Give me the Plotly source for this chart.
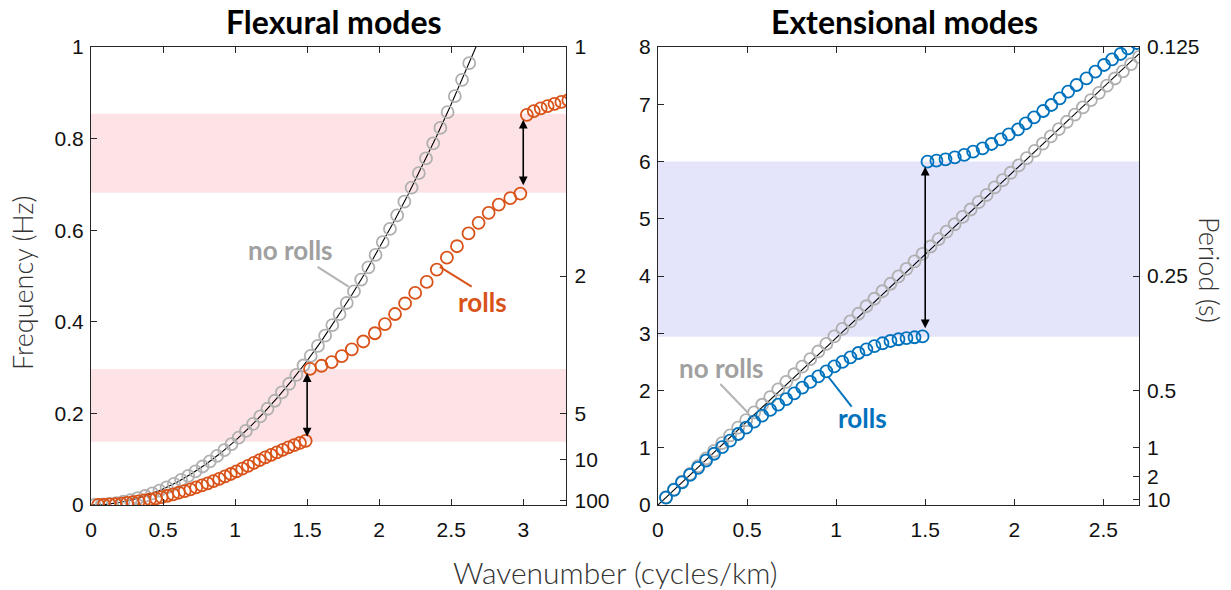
import plotly.graph_objects as go

# ---------------- data ----------------
# Flexural modes (left panel)
flex_line_k = [0.0, 0.1, 0.2, 0.3, 0.4, 0.5, 0.6, 0.7, 0.8, 0.9, 1.0, 1.1, 1.2, 1.3, 1.4,
               1.5, 1.6, 1.7, 1.8, 1.9, 2.0, 2.1, 2.2, 2.3, 2.4, 2.5, 2.6, 2.7]
flex_line_f = [0.0, 0.0014, 0.0056, 0.0126, 0.0224, 0.035, 0.0504, 0.0686, 0.0896, 0.1134,
               0.14, 0.1694, 0.2016, 0.2366, 0.2744, 0.315, 0.3584, 0.4046, 0.4536, 0.5054,
               0.56, 0.6174, 0.6776, 0.7406, 0.8064, 0.875, 0.9464, 1.0206]

flex_norolls_k = [0.025, 0.075, 0.125, 0.175, 0.225, 0.275, 0.325, 0.375, 0.425, 0.475,
                  0.525, 0.575, 0.625, 0.675, 0.725, 0.775, 0.825, 0.875, 0.925, 0.975,
                  1.025, 1.075, 1.125, 1.175, 1.225, 1.275, 1.325, 1.375, 1.425, 1.475,
                  1.525, 1.575, 1.625, 1.675, 1.725, 1.775, 1.825, 1.875, 1.925, 1.975,
                  2.025, 2.075, 2.125, 2.175, 2.225, 2.275, 2.325, 2.375, 2.425, 2.475,
                  2.525, 2.575, 2.625]
flex_norolls_f = [0.0001, 0.0008, 0.0022, 0.0043, 0.0071, 0.0106, 0.0148, 0.0197, 0.0253, 0.0316,
                  0.0386, 0.0463, 0.0547, 0.0638, 0.0736, 0.0841, 0.0953, 0.1072, 0.1198, 0.1331,
                  0.1471, 0.1618, 0.1772, 0.1933, 0.2101, 0.2276, 0.2458, 0.2647, 0.2843, 0.3046,
                  0.3256, 0.3473, 0.3697, 0.3928, 0.4166, 0.4411, 0.4663, 0.4922, 0.5188, 0.5461,
                  0.5741, 0.6028, 0.6322, 0.6623, 0.6931, 0.7246, 0.7568, 0.7897, 0.8233, 0.8576,
                  0.8926, 0.9283, 0.9647]

flex_rolls1_k = [0.05, 0.09, 0.13, 0.17, 0.21, 0.25, 0.29, 0.33, 0.37, 0.41, 0.45, 0.49,
                 0.53, 0.57, 0.61, 0.65, 0.69, 0.73, 0.77, 0.81, 0.85, 0.89, 0.93, 0.97,
                 1.01, 1.05, 1.09, 1.13, 1.17, 1.21, 1.25, 1.29, 1.33, 1.37, 1.41, 1.45, 1.49]
flex_rolls1_f = [0.0002, 0.0006, 0.0012, 0.0021, 0.0032, 0.0045, 0.0061, 0.0078, 0.0099, 0.0121,
                 0.0146, 0.0173, 0.0202, 0.0234, 0.0268, 0.0304, 0.0343, 0.0384, 0.0427, 0.0472,
                 0.0520, 0.0570, 0.0623, 0.0677, 0.0735, 0.0794, 0.0855, 0.0918, 0.0979, 0.1039,
                 0.1096, 0.1151, 0.1205, 0.1257, 0.1307, 0.1355, 0.1401]

flex_rolls2_k = [1.52, 1.60, 1.67, 1.74, 1.81, 1.89, 1.97, 2.04, 2.11, 2.18, 2.25, 2.33,
                 2.40, 2.47, 2.54, 2.62, 2.69, 2.76, 2.83, 2.91, 2.98]
flex_rolls2_f = [0.297, 0.304, 0.312, 0.325, 0.340, 0.357, 0.375, 0.395, 0.417, 0.440, 0.463, 0.487,
                 0.514, 0.540, 0.565, 0.593, 0.616, 0.638, 0.656, 0.670, 0.680]

flex_rolls3_k = [3.025, 3.073, 3.121, 3.169, 3.217, 3.265, 3.313]
flex_rolls3_f = [0.852, 0.860, 0.866, 0.871, 0.876, 0.880, 0.884]

flex_bands = [(0.138, 0.297), (0.682, 0.854)]
flex_period_vals = [1.0, 0.5, 0.2, 0.1, 0.01]
flex_period_text = ["1", "2", "5", "10", "100"]

# Extensional modes (right panel)
ext_line_k = [0.0, 2.7]
ext_line_f = [0.0, 7.88]

ext_norolls_k = [0.045, 0.09, 0.135, 0.18, 0.225, 0.27, 0.315, 0.36, 0.405, 0.45,
                 0.495, 0.54, 0.585, 0.63, 0.675, 0.72, 0.765, 0.81, 0.855, 0.9,
                 0.945, 0.99, 1.035, 1.08, 1.125, 1.17, 1.215, 1.26, 1.305, 1.35,
                 1.395, 1.44, 1.485, 1.53, 1.575, 1.62, 1.665, 1.71, 1.755, 1.8,
                 1.845, 1.89, 1.935, 1.98, 2.025, 2.07, 2.115, 2.16, 2.205, 2.25,
                 2.295, 2.34, 2.385, 2.43, 2.475, 2.52, 2.565, 2.61, 2.655, 2.7]
ext_norolls_f = [0.1358, 0.2714, 0.4069, 0.5421, 0.6772, 0.8121, 0.9468, 1.0814, 1.2157, 1.3499,
                 1.4839, 1.6177, 1.7513, 1.8847, 2.0180, 2.1511, 2.2840, 2.4167, 2.5492, 2.6815,
                 2.8137, 2.9457, 3.0775, 3.2091, 3.3405, 3.4718, 3.6029, 3.7338, 3.8645, 3.9950,
                 4.1254, 4.2555, 4.3855, 4.5153, 4.6449, 4.7743, 4.9036, 5.0326, 5.1615, 5.2902,
                 5.4187, 5.5471, 5.6752, 5.8032, 5.9310, 6.0586, 6.1860, 6.3133, 6.4403, 6.5672,
                 6.6939, 6.8204, 6.9467, 7.0729, 7.1988, 7.3246, 7.4502, 7.5757, 7.7009, 7.8260]

ext_rolls1_k = [0.045, 0.09, 0.135, 0.18, 0.225, 0.27, 0.315, 0.36, 0.405, 0.45,
                0.495, 0.54, 0.585, 0.63, 0.675, 0.72, 0.765, 0.81, 0.855, 0.9,
                0.945, 0.99, 1.035, 1.08, 1.125, 1.17, 1.215, 1.26, 1.305, 1.35,
                1.395, 1.44, 1.485]
ext_rolls1_f = [0.13, 0.265, 0.395, 0.525, 0.65, 0.775, 0.895, 1.01, 1.125, 1.24,
                1.35, 1.455, 1.56, 1.66, 1.755, 1.85, 1.95, 2.05, 2.15, 2.245,
                2.335, 2.42, 2.5, 2.58, 2.655, 2.72, 2.775, 2.825, 2.865, 2.895,
                2.915, 2.93, 2.945]

ext_rolls2_k = [1.513, 1.563, 1.614, 1.666, 1.719, 1.769, 1.822, 1.872, 1.924, 1.969,
                2.021, 2.064, 2.111, 2.162, 2.208, 2.255, 2.302, 2.349, 2.405, 2.455,
                2.504, 2.549, 2.597, 2.638, 2.686]
ext_rolls2_f = [5.997, 6.014, 6.038, 6.073, 6.114, 6.171, 6.230, 6.306, 6.387, 6.475,
                6.562, 6.667, 6.772, 6.882, 6.987, 7.103, 7.220, 7.336, 7.453, 7.569,
                7.686, 7.785, 7.878, 7.977, 8.070]

ext_bands = [(2.94, 6.0)]
ext_period_vals = [8.0, 4.0, 2.0, 1.0, 0.5, 0.1]
ext_period_text = ["0.125", "0.25", "0.5", "1", "2", "10"]

# gap arrows: (x, f_low, f_high)
flex_arrows = [(1.5, 0.146, 0.288), (3.0, 0.695, 0.841)]
ext_arrows = [(1.5, 3.06, 5.91)]

# ---------------- style ----------------
GRAY = "#b0b0b0"
ORANGE = "#d95319"
BLUE = "#0072bd"
LABEL_GRAY = "#a0a0a0"
AXIS = "#262626"
PINK = "#fde3e6"
LAVENDER = "#e4e4fb"
TICKFONT = dict(family="Liberation Sans, Arial", size=21, color="#111111")
LBLFONT = "Lato, Open Sans, sans-serif"

fig = go.Figure()


def add_markers(x, y, color, xa, ya):
    fig.add_trace(go.Scatter(x=x, y=y, mode="markers", xaxis=xa, yaxis=ya,
                             marker=dict(symbol="circle-open", size=12, color=color,
                                         line=dict(width=1.8, color=color)),
                             showlegend=False, hoverinfo="skip"))


def add_line(x, y, xa, ya):
    fig.add_trace(go.Scatter(x=x, y=y, mode="lines", xaxis=xa, yaxis=ya,
                             line=dict(color="black", width=1.1),
                             showlegend=False, hoverinfo="skip"))


# left
add_line(flex_line_k, flex_line_f, "x", "y")
add_markers(flex_norolls_k, flex_norolls_f, GRAY, "x", "y")
add_markers(flex_rolls1_k, flex_rolls1_f, ORANGE, "x", "y")
add_markers(flex_rolls2_k, flex_rolls2_f, ORANGE, "x", "y")
add_markers(flex_rolls3_k, flex_rolls3_f, ORANGE, "x", "y")
# right
add_line(ext_line_k, ext_line_f, "x2", "y2")
add_markers(ext_norolls_k, ext_norolls_f, GRAY, "x2", "y2")
add_markers(ext_rolls1_k, ext_rolls1_f, BLUE, "x2", "y2")
add_markers(ext_rolls2_k, ext_rolls2_f, BLUE, "x2", "y2")

# invisible traces so that the period (right-hand) axes get drawn
for xa, ya, vals in [("x", "y3", flex_period_vals), ("x2", "y4", ext_period_vals)]:
    fig.add_trace(go.Scatter(x=[0.0] * len(vals), y=vals, mode="markers", xaxis=xa, yaxis=ya,
                             marker=dict(opacity=0, size=1), showlegend=False,
                             hoverinfo="skip"))

shapes = []
for lo, hi in flex_bands:
    shapes.append(dict(type="rect", xref="x domain", yref="y", x0=0, x1=1, y0=lo, y1=hi,
                       fillcolor=PINK, line=dict(width=0), layer="below"))
for lo, hi in ext_bands:
    shapes.append(dict(type="rect", xref="x2 domain", yref="y2", x0=0, x1=1, y0=lo, y1=hi,
                       fillcolor=LAVENDER, line=dict(width=0), layer="below"))

# leader lines for labels (data coords)
leaders = [
    ("x", "y", 1.572, 0.520, 1.788, 0.477, "#b3b3b3"),
    ("x", "y", 2.421, 0.520, 2.642, 0.477, ORANGE),
    ("x2", "y2", 0.350, 2.113, 0.505, 1.612, "#b3b3b3"),
    ("x2", "y2", 0.957, 2.236, 1.087, 1.717, BLUE),
]
for xa, ya, x0, y0, x1, y1, c in leaders:
    shapes.append(dict(type="line", xref=xa, yref=ya, x0=x0, y0=y0, x1=x1, y1=y1,
                       line=dict(color=c, width=2)))

annotations = []
for xa, ya, arrows in [("x", "y", flex_arrows), ("x2", "y2", ext_arrows)]:
    for x, lo, hi in arrows:
        annotations.append(dict(x=x, y=hi, ax=x, ay=lo, xref=xa, yref=ya, axref=xa, ayref=ya,
                                text="", showarrow=True, arrowhead=2, arrowside="end+start",
                                arrowsize=1.1, arrowwidth=1.6, arrowcolor="black",
                                standoff=0, startstandoff=0))

labels = [
    ("x", "y", 1.382, 0.557, "no rolls", LABEL_GRAY),
    ("x", "y", 2.72, 0.443, "rolls", ORANGE),
    ("x2", "y2", 0.356, 2.398, "no rolls", LABEL_GRAY),
    ("x2", "y2", 1.146, 1.52, "rolls", BLUE),
]
for xa, ya, x, y, t, c in labels:
    annotations.append(dict(x=x, y=y, xref=xa, yref=ya, text="<b>" + t + "</b>", showarrow=False,
                            font=dict(family=LBLFONT, size=26, color=c),
                            xanchor="center", yanchor="middle"))

# titles and axis labels (paper coords)
annotations += [
    dict(x=0.2314, y=1.0546, xref="paper", yref="paper", text="<b>Flexural modes</b>",
         showarrow=False, font=dict(family=LBLFONT, size=32, color="black"),
         xanchor="center", yanchor="middle"),
    dict(x=0.7758, y=1.0546, xref="paper", yref="paper", text="<b>Extensional modes</b>",
         showarrow=False, font=dict(family=LBLFONT, size=32, color="black"),
         xanchor="center", yanchor="middle"),
    dict(x=0.5, y=-0.146, xref="paper", yref="paper", text="Wavenumber (cycles/km)",
         showarrow=False, font=dict(family=LBLFONT, size=30, color="#333333", weight=300),
         xanchor="center", yanchor="middle"),
    dict(x=-0.0658, y=0.4847, xref="paper", yref="paper", text="Frequency (Hz)",
         showarrow=False, font=dict(family=LBLFONT, size=27, color="#333333", weight=300),
         textangle=-90, xanchor="center", yanchor="middle"),
    dict(x=1.0678, y=0.5131, xref="paper", yref="paper", text="Period (s)",
         showarrow=False, font=dict(family=LBLFONT, size=27, color="#333333", weight=300),
         textangle=90, xanchor="center", yanchor="middle"),
]

xcommon = dict(ticks="inside", ticklen=6, tickcolor=AXIS, showline=True, linecolor=AXIS,
               linewidth=1, mirror="ticks", showgrid=False, zeroline=False, tickfont=TICKFONT,
               ticklabelstandoff=6)
ycommon = dict(ticks="inside", ticklen=6, tickcolor=AXIS, showline=True, linecolor=AXIS,
               linewidth=1, mirror=True, showgrid=False, zeroline=False, tickfont=TICKFONT,
               ticklabelstandoff=2)
pcommon = dict(ticks="inside", ticklen=6, tickcolor=AXIS, showline=False, showgrid=False,
               zeroline=False, tickfont=TICKFONT, ticklabelstandoff=7)

fig.update_layout(
    width=1231, height=590,
    margin=dict(l=91, r=92, t=47, b=85),
    paper_bgcolor="white", plot_bgcolor="white",
    showlegend=False,
    xaxis=dict(domain=[0, 0.4537], range=[0, 3.3], tickvals=[0, 0.5, 1, 1.5, 2, 2.5, 3],
               anchor="y", **xcommon),
    yaxis=dict(domain=[0, 1], range=[0, 1], tickvals=[0, 0.2, 0.4, 0.6, 0.8, 1],
               anchor="x", **ycommon),
    yaxis3=dict(overlaying="y", side="right", anchor="x", range=[0, 1],
                tickvals=flex_period_vals, ticktext=flex_period_text, **pcommon),
    xaxis2=dict(domain=[0.5410, 1], range=[0, 2.7], tickvals=[0, 0.5, 1, 1.5, 2, 2.5],
                anchor="y2", **xcommon),
    yaxis2=dict(domain=[0, 1], range=[0, 8], tickvals=[0, 1, 2, 3, 4, 5, 6, 7, 8],
                anchor="x2", **ycommon),
    yaxis4=dict(overlaying="y2", side="right", anchor="x2", range=[0, 8],
                tickvals=ext_period_vals, ticktext=ext_period_text, **pcommon),
    shapes=shapes,
    annotations=annotations,
)

fig.write_html("out.html", config={"displayModeBar": False},
               post_script="document.body.style.margin='0';document.body.style.overflow='hidden';")
